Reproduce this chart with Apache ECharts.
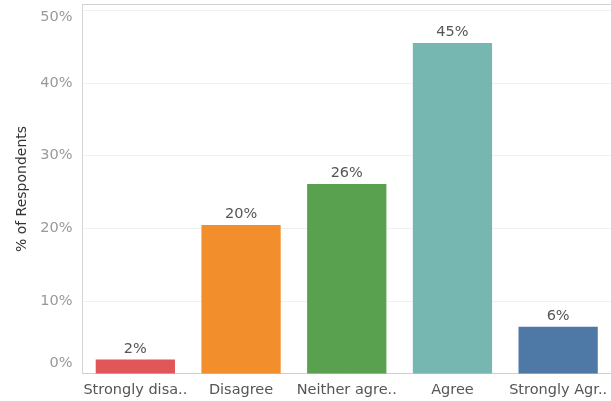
<!DOCTYPE html>
<html>
<head>
<meta charset="utf-8">
<script src="https://cdn.jsdelivr.net/npm/echarts@6/dist/echarts.min.js"></script>
<style>html,body{margin:0;padding:0;background:#fff}#c{width:611px;height:401px}</style>
</head>
<body>
<div id="c"></div>
<script>
var categories = ['Strongly disa..', 'Disagree', 'Neither agre..', 'Agree', 'Strongly Agr..'];
var values = [1.94, 20.45, 26.1, 45.5, 6.43];
var labels = ['2%', '20%', '26%', '45%', '6%'];
var colors = ['#e15759', '#f28e2b', '#59a14f', '#76b7b2', '#4e79a7'];

var chart = echarts.init(document.getElementById('c'), null, {renderer: 'canvas'});
var FONT = 'DejaVu Sans';
chart.setOption({
  animation: false,
  grid: {left: 82.5, top: 4.5, width: 535, height: 369, containLabel: false},
  xAxis: {
    type: 'category',
    data: categories,
    axisLine: {lineStyle: {color: '#cfcfcf'}},
    axisTick: {show: false},
    axisLabel: {color: '#555', fontSize: 14.5, fontFamily: FONT, margin: 9, interval: 0}
  },
  yAxis: {
    type: 'value',
    min: 0, max: 50.8, interval: 10,
    name: '% of Respondents',
    nameLocation: 'middle',
    nameGap: 48,
    nameTextStyle: {color: '#333', fontSize: 14, fontFamily: FONT},
    axisLine: {show: true, lineStyle: {color: '#d4d4d4'}},
    axisTick: {show: false},
    axisLabel: {
      color: '#999', fontSize: 14.5, fontFamily: FONT, margin: 10,
      formatter: function (v) {
        if (Math.abs(v % 10) > 1e-9) return '';
        if (v === 0) return '{lo|0%}';
        if (v === 50) return '{hi|50%}';
        return v + '%';
      },
      rich: {
        lo: {color: '#999', fontSize: 14.5, fontFamily: FONT, padding: [0, 0, 20, 0]},
        hi: {color: '#999', fontSize: 14.5, fontFamily: FONT, padding: [13, 0, 0, 0]}
      }
    },
    splitLine: {lineStyle: {color: ['#f0f0f0','#f0f0f0','#f0f0f0','#f0f0f0','#f0f0f0','#f0f0f0','#cfcfcf']}}
  },
  series: [{
    type: 'bar',
    barCategoryGap: '25%',
    data: values.map(function (v, i) {
      return {value: v, itemStyle: {color: colors[i]}, label: {formatter: labels[i]}};
    }),
    label: {show: true, position: 'top', distance: 3, color: '#555', fontSize: 14.5, fontFamily: FONT}
  }]
});
</script>
</body>
</html>
